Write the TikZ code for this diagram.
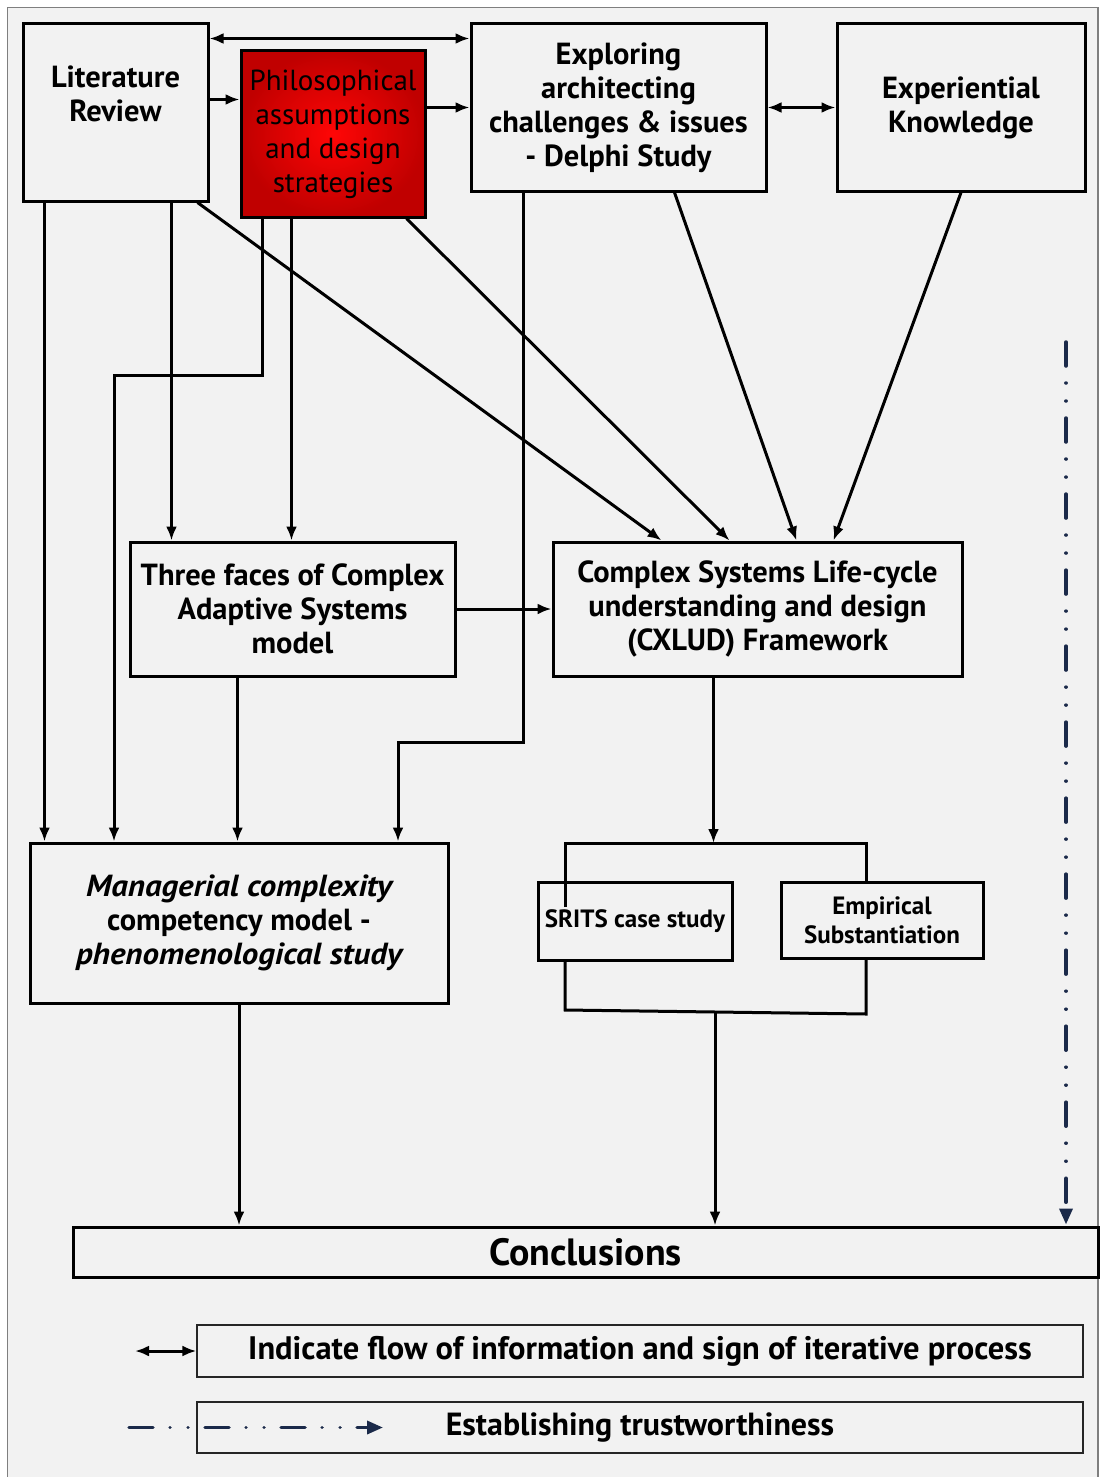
\documentclass[tikz,border=0pt]{standalone}
\usepackage{fontspec}
\setmainfont{PT Sans}
\usetikzlibrary{arrows.meta,calc}
\definecolor{pagebg}{HTML}{F2F2F2}
\definecolor{framegray}{HTML}{7F7F7F}
\definecolor{navy}{HTML}{1B2A4A}
\definecolor{redlight}{HTML}{FF0606}
\definecolor{reddark}{HTML}{C00000}
\newcommand{\wideit}[1]{\scalebox{1.08}[1]{\itshape #1}}
\begin{document}
\begin{tikzpicture}[x=1pt,y=-1pt,
  box/.style={draw=black,line width=3pt,fill=pagebg,inner sep=0pt},
  txt/.style={align=center,inner sep=0pt,font=\fontsize{30.5}{34}\selectfont\bfseries},
  smalltxt/.style={align=center,inner sep=0pt,font=\fontsize{25}{29}\selectfont\bfseries},
  legbox/.style={draw=black!85,line width=1.3pt,fill=pagebg,inner sep=0pt},
  conn/.style={line width=3pt,-{Latex[length=14pt,width=11pt]}},
  dconn/.style={line width=3pt,{Latex[length=14pt,width=11pt]}-{Latex[length=14pt,width=11pt]}},
  plain/.style={line width=3pt},
  trust/.style={navy,line width=3.5pt,line cap=round,
    dash pattern=on 24pt off 17pt on 0.01pt off 18pt on 0.01pt off 17pt,
    -{Triangle[length=16pt,width=13pt]}}
]
\useasboundingbox (0,0) rectangle (1100,1477);
% page and outer frame
\fill[white] (0,0) rectangle (1100,1477);
\draw[framegray,line width=1.5pt,fill=pagebg] (7.5,7.5) rectangle (1098,1500);

% top row
\node[box,minimum width=185pt,minimum height=177pt] (lit) at (115.5,112.5) {};
\node[txt] (littxt) at (115.5,94) {Literature\\Review};
\node[draw=black,line width=3pt,inner sep=0pt,minimum width=184pt,minimum height=166pt,
  inner color=redlight,outer color=reddark,
  align=center,font=\fontsize{29}{34}\selectfont] (phil) at (333,134)
  {Philosophical\\assumptions\\and design\\strategies};
\node[box,minimum width=295pt,minimum height=167pt,txt] (expl) at (618.5,107.5)
  {Exploring\\architecting\\challenges \& issues\\- Delphi Study};
\node[box,minimum width=248pt,minimum height=167pt,txt] (exper) at (961,107.5)
  {Experiential\\Knowledge};

% middle row
\node[box,minimum width=325pt,minimum height=134pt,txt] (three) at (292.5,609)
  {Three faces of Complex\\Adaptive Systems\\model};
\node[box,minimum width=409pt,minimum height=134pt,txt] (cx) at (757.5,609)
  {Complex Systems Life-cycle\\understanding and design\\(CXLUD) Framework};

% lower row
\node[box,minimum width=418pt,minimum height=160pt,txt] (mgr) at (239,923)
  {\wideit{Managerial complexity}\\competency model -\\\wideit{phenomenological study}};
\node[box,minimum width=194pt,minimum height=78pt,smalltxt] (srits) at (635,921)
  {SRITS case study};
\node[box,minimum width=202pt,minimum height=76pt,smalltxt] (emp) at (882,920)
  {Empirical\\Substantiation};

% frame around the case study pair
\coordinate (gtl) at (565,843);
\coordinate (gtr) at (866,843);
\coordinate (gbl) at (565,1010);
\coordinate (gbr) at (866,1014);
\coordinate (gbm) at (715,1012);
\coordinate (gin) at (565,907);
\draw[plain,line join=miter] (gin) -- (gtl) -- (gtr) -- (gtr |- emp.north);
\draw[plain,line join=miter] (gbl |- srits.south) -- (gbl) -- (gbr) -- (gbr |- emp.south);

% conclusions
\node[box,minimum width=1025pt,minimum height=50pt,
  font=\fontsize{38}{42}\selectfont\bfseries] (conc) at (585.5,1252) {Conclusions};

% legend
\node[legbox,minimum width=886pt,minimum height=52pt,
  font=\fontsize{32.5}{36}\selectfont\bfseries] (leg1) at (640,1351)
  {Indicate flow of information and sign of iterative process};
\node[legbox,minimum width=886pt,minimum height=51pt,
  font=\fontsize{32}{36}\selectfont\bfseries] (leg2) at (640,1427.5)
  {Establishing trustworthiness};
\coordinate (lg1) at (135,1351);
\coordinate (lg2a) at (129,1427.5);
\coordinate (lg2b) at (383,1427.5);
\draw[dconn] (lg1) -- (leg1.west);
\draw[trust] (lg2a) -- (lg2b);

% connectors between the top-row boxes
\draw[dconn] ($(lit.north east)+(0,16)$) -- ($(expl.north west)+(0,16)$);
\draw[conn] ($(lit.north east)+(0,77)$) coordinate (a2) -- (a2 -| phil.west);
\draw[conn] (phil.east |- expl.west) -- (expl.west);
\draw[dconn] (expl.east) -- (exper.west);

% from Literature Review
\draw[conn] ($(lit.south west)+(23,0)$) coordinate (c5) -- (c5 |- mgr.north);
\draw[conn] ($(lit.south west)+(150,0)$) coordinate (c6) -- (c6 |- three.north);
\draw[conn] ($(lit.south east)+(-12,0)$) -- ($(cx.north west)+(110,0)$);

% from Philosophical assumptions
\coordinate (k1) at (114,375);
\draw[conn,line join=miter] ($(phil.south west)+(23,0)$) |- (k1) -- (k1 |- mgr.north);
\draw[conn] ($(phil.south west)+(52,0)$) coordinate (c9) -- (c9 |- three.north);
\draw[conn] ($(phil.south east)+(-20,0)$) -- ($(cx.north west)+(178,0)$);

% from the Delphi study
\coordinate (k2) at (398,742);
\draw[conn,line join=miter] ($(expl.south west)+(54,0)$) |- (k2) -- (k2 |- mgr.north);
\draw[conn] ($(expl.south west)+(205,0)$) -- ($(cx.north west)+(245,0)$);

% from Experiential Knowledge
\draw[conn] (exper.south) -- ($(cx.north west)+(282,0)$);

% middle and lower flows
\draw[conn] (three.east |- cx.west) -- (cx.west);
\draw[conn] ($(three.south west)+(109,0)$) coordinate (c15) -- (c15 |- mgr.north);
\draw[conn] ($(cx.south west)+(162,0)$) coordinate (c16) -- (c16 |- gtl);
\draw[conn] (mgr.south) -- (mgr.south |- conc.north);
\draw[conn] (gbm) -- (gbm |- conc.north);

% trustworthiness line
\coordinate (ts) at (1066,342);
\draw[trust] (ts) -- ($(ts |- conc.north)+(0,-1)$);
\end{tikzpicture}
\end{document}
